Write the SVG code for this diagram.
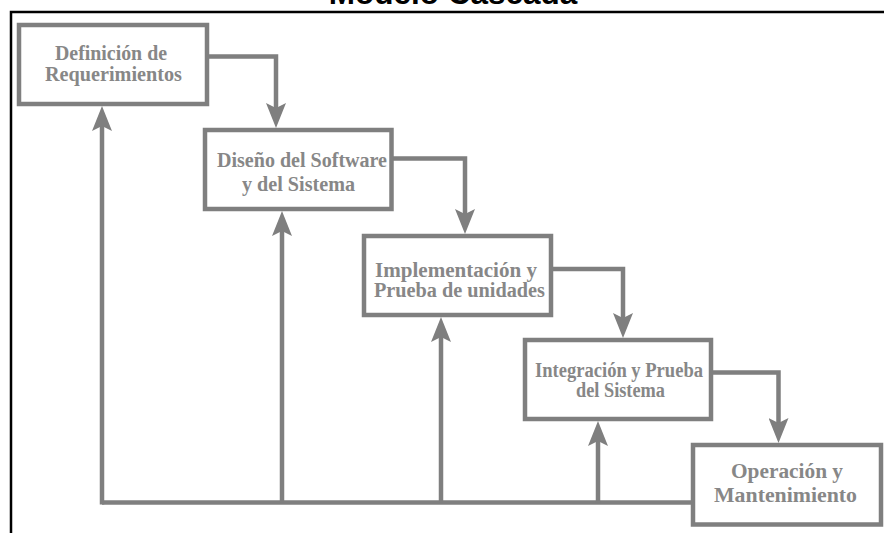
<svg xmlns="http://www.w3.org/2000/svg" width="884" height="533" viewBox="0 0 884 533">
<style>
.box{fill:#fff;stroke:#7f7f7f;stroke-width:4.5}
.lbl{font-family:"Liberation Serif","Times New Roman",serif;font-weight:bold;font-size:20px;fill:#878787;text-anchor:middle}
.con{fill:none;stroke:#7f7f7f;stroke-width:4.5;stroke-linejoin:miter}
.arr{fill:none;stroke:#7f7f7f;stroke-width:4.5;marker-end:url(#ah)}
.title{font-family:"Liberation Sans",Arial,sans-serif;font-weight:bold;font-size:31.5px;fill:#000;text-anchor:middle}
</style>
<defs>
<marker id="ah" markerUnits="userSpaceOnUse" viewBox="0 0 25 20" refX="5" refY="10" markerWidth="25" markerHeight="20" orient="auto">
<path d="M0,0 L25,10 L0,20 L5,10 Z" fill="#7f7f7f"/>
</marker>
</defs>
<rect width="884" height="533" fill="#fff"/>
<text class="title" x="453" y="4">Modelo Cascada</text>
<path d="M11,533 V12 H884" fill="none" stroke="#000" stroke-width="2.5"/>
<g id="connectors">
<path class="arr" d="M207,56.5 H276 V108"/>
<path class="arr" d="M391.5,158.5 H465 V214"/>
<path class="arr" d="M551,269 H623 V318"/>
<path class="arr" d="M711,372.5 H778.5 V423"/>
<path class="con" d="M102,502.5 H693"/>
<path class="arr" d="M102,504.5 V126"/>
<path class="arr" d="M282,502.5 V231"/>
<path class="arr" d="M441,502.5 V337"/>
<path class="arr" d="M598,502.5 V441"/>
</g>
<g id="n1">
<rect class="box" x="19" y="25" width="188" height="79"/>
<text class="lbl" x="111" y="60" textLength="112" lengthAdjust="spacingAndGlyphs">Definición de</text>
<text class="lbl" x="113.5" y="81" textLength="137" lengthAdjust="spacingAndGlyphs">Requerimientos</text>
</g>
<g id="n2">
<rect class="box" x="205" y="130" width="186.5" height="79"/>
<text class="lbl" x="302" y="167" textLength="170" lengthAdjust="spacingAndGlyphs">Diseño del Software</text>
<text class="lbl" x="298.5" y="191" textLength="113" lengthAdjust="spacingAndGlyphs">y del Sistema</text>
</g>
<g id="n3">
<rect class="box" x="364" y="236" width="187" height="79"/>
<text class="lbl" x="456" y="277" textLength="162" lengthAdjust="spacingAndGlyphs">Implementación y</text>
<text class="lbl" x="459.5" y="297" textLength="171" lengthAdjust="spacingAndGlyphs">Prueba de unidades</text>
</g>
<g id="n4">
<rect class="box" x="525" y="340" width="186" height="79"/>
<text class="lbl" x="619" y="377" textLength="168" lengthAdjust="spacingAndGlyphs">Integración y Prueba</text>
<text class="lbl" x="620.5" y="397" textLength="89" lengthAdjust="spacingAndGlyphs">del Sistema</text>
</g>
<g id="n5">
<rect class="box" x="693" y="445" width="188" height="79.5"/>
<text class="lbl" x="787" y="478" textLength="112" lengthAdjust="spacingAndGlyphs">Operación y</text>
<text class="lbl" x="785.5" y="502" textLength="143" lengthAdjust="spacingAndGlyphs">Mantenimiento</text>
</g>
</svg>
